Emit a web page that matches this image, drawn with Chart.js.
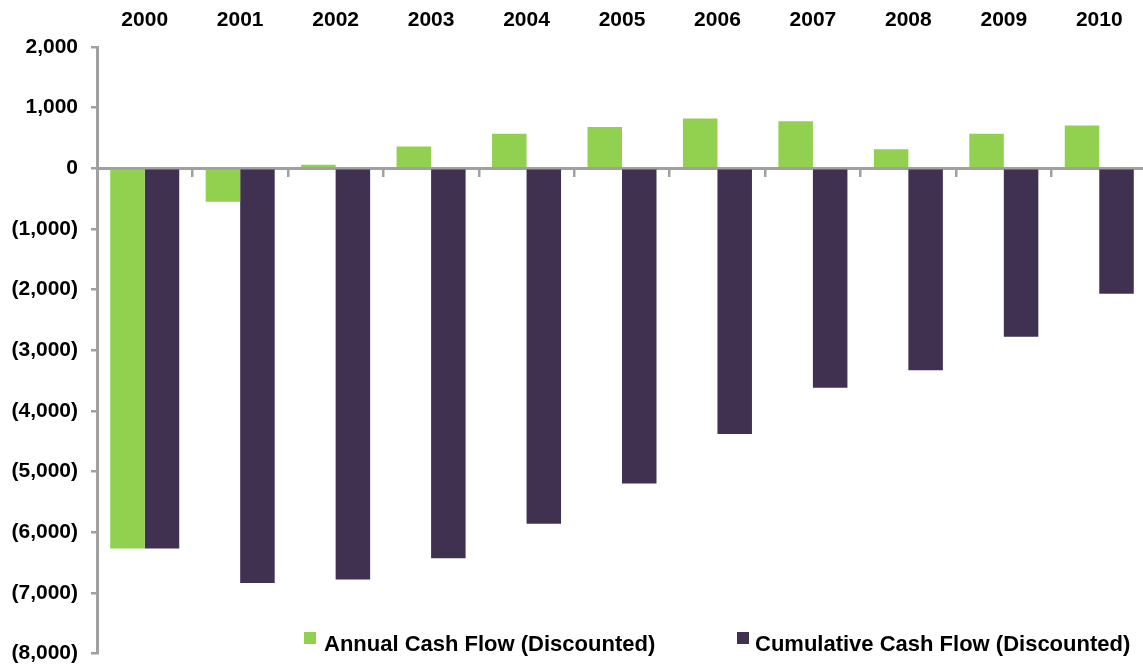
<!DOCTYPE html>
<html lang="en">
<head>
  <meta charset="UTF-8" />
  <title>Discounted Cash Flow</title>
  <style>
    html, body {
      margin: 0;
      padding: 0;
      background: #fff;
      overflow: hidden;
    }
    #wrap {
      position: relative;
      width: 1150px;
      height: 669px;
      overflow: hidden;
    }
    #cashChart {
      display: block;
    }
    .legend-item {
      position: absolute;
      font-family: Arial, "Liberation Sans", sans-serif;
      font-weight: bold;
      font-size: 22px;
      line-height: 22px;
      color: #000;
      white-space: nowrap;
    }
    .legend-box {
      position: absolute;
      width: 12px;
      height: 12px;
    }
  </style>
  <script src="https://cdn.jsdelivr.net/npm/chart.js"></script>
</head>
<body>
  <div id="wrap">
    <canvas id="cashChart" width="1150" height="679"></canvas>
  </div>

  <script>
    const years = ['2000', '2001', '2002', '2003', '2004', '2005', '2006', '2007', '2008', '2009', '2010'];
    const annualFlow = [-6270, -550, 60, 360, 570, 680, 820, 775, 315, 570, 705];
    const cumulativeFlow = [-6270, -6840, -6780, -6430, -5860, -5200, -4380, -3620, -3330, -2780, -2070];
    const seriesNames = ['Annual Cash Flow (Discounted)', 'Cumulative Cash Flow (Discounted)'];
    const seriesColors = ['#92D050', '#403151'];
    const axisMin = -8000;
    const axisMax = 2000;
    const axisStep = 1000;

    const axisGrey = '#a0a0a0';
    const labelFont = { family: 'Arial, "Liberation Sans", sans-serif', size: 21, weight: 'bold' };

    // negatives shown in accounting style, e.g. (6,000)
    function money(v) {
      const s = Math.abs(v).toLocaleString('en-US');
      return v < 0 ? '(' + s + ')' : s;
    }

    const ctx = document.getElementById('cashChart').getContext('2d');
    const chart = new Chart(ctx, {
      type: 'bar',
      data: {
        labels: years,
        datasets: [
          {
            label: seriesNames[0],
            data: annualFlow,
            backgroundColor: seriesColors[0],
            categoryPercentage: 0.723,
            barPercentage: 1
          },
          {
            label: seriesNames[1],
            data: cumulativeFlow,
            backgroundColor: seriesColors[1],
            categoryPercentage: 0.723,
            barPercentage: 1
          }
        ]
      },
      options: {
        responsive: false,
        animation: false,
        layout: { padding: { left: 0, top: 0, right: 3, bottom: 5 } },
        plugins: {
          legend: { display: false },
          tooltip: { enabled: false }
        },
        scales: {
          x: {
            position: 'top',
            grid: { display: false },
            border: { display: false },
            ticks: { font: labelFont, color: '#000', padding: 6, maxRotation: 0 },
            afterFit: (scale) => { scale.height = 47; }
          },
          // axis line along zero with small category ticks below it
          xZero: {
            type: 'category',
            position: { y: 0 },
            z: 1,
            ticks: { display: false },
            grid: {
              offset: true,
              drawOnChartArea: false,
              tickLength: 7,
              color: axisGrey,
              lineWidth: 2.5
            },
            border: { display: true, color: axisGrey, width: 3 }
          },
          y: {
            min: axisMin,
            max: axisMax,
            ticks: {
              stepSize: axisStep,
              font: labelFont,
              color: '#000',
              padding: 13,
              callback: (v) => money(v)
            },
            grid: {
              drawOnChartArea: false,
              tickLength: 6,
              color: axisGrey,
              lineWidth: 2.5
            },
            border: { display: true, color: axisGrey, width: 3 },
            afterFit: (scale) => { scale.width = 97; }
          }
        }
      }
    });

    // legend sits inside the plot, bottom right
    const legendSpots = [{ box: 304, text: 324 }, { box: 737, text: 755 }];
    const wrap = document.getElementById('wrap');
    chart.data.datasets.forEach((ds, i) => {
      const box = document.createElement('div');
      box.className = 'legend-box';
      box.style.left = legendSpots[i].box + 'px';
      box.style.top = '632px';
      box.style.background = ds.backgroundColor;
      wrap.appendChild(box);

      const txt = document.createElement('div');
      txt.className = 'legend-item';
      txt.style.left = legendSpots[i].text + 'px';
      txt.style.top = '633px';
      txt.textContent = ds.label;
      wrap.appendChild(txt);
    });
  </script>
</body>
</html>
